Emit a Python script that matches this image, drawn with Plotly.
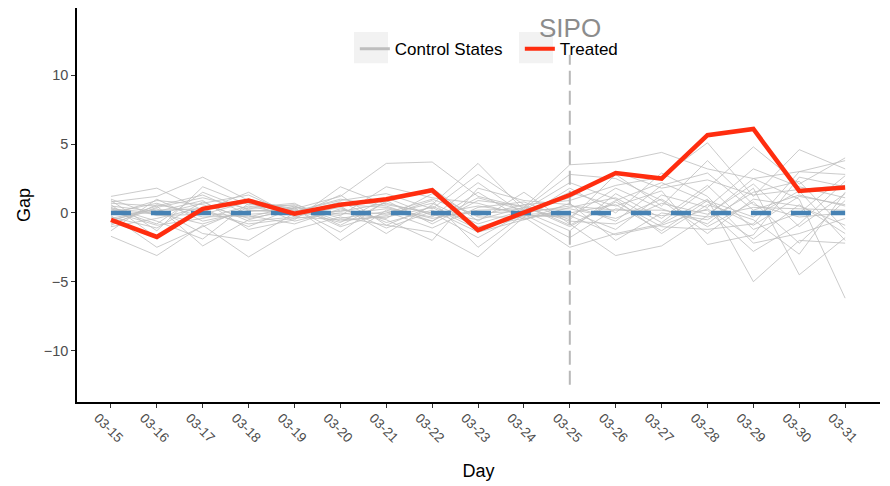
import plotly.graph_objects as go

days = ["03-15", "03-16", "03-17", "03-18", "03-19", "03-20", "03-21", "03-22", "03-23",
        "03-24", "03-25", "03-26", "03-27", "03-28", "03-29", "03-30", "03-31"]
treat_day = "03-25"

treated = [-0.5, -1.75, 0.3, 0.9, -0.05, 0.6, 1.0, 1.65, -1.25, 0.0, 1.3, 2.9, 2.5, 5.65, 6.1, 1.6, 1.85]
zero_line = [0.0] * len(days)

control_states = [
    [0.8, 1.2, 2.6, 0.9, 0.3, 1.2, 3.6, 3.7, 1.2, 0.4, 3.5, 3.7, 4.4, 3.2, 2.5, 3.0, 2.8],
    [-1.7, -3.1, -0.9, -3.2, -1.2, -0.3, -0.9, -1.4, -3.2, -0.3, -2.5, -1.5, -0.8, 1.0, -5.0, -2.0, -2.2],
    [0.3, -0.8, 1.5, 0.2, 0.1, 0.9, 1.4, 0.3, 2.8, 0.6, 0.9, 2.0, 2.6, 5.1, 1.2, 4.6, 3.2],
    [-0.6, 0.5, -2.4, -0.5, 0.4, -2.0, 0.2, -0.6, 1.5, -0.5, 0.4, 1.1, -0.7, 1.8, 4.8, 2.1, 4.0],
    [1.2, 1.8, 0.2, 1.5, -0.3, 0.5, -1.5, 0.6, 3.6, 0.2, 2.2, 1.0, -1.5, 0.6, -0.5, -3.0, 1.5],
    [-0.2, -2.5, -1.0, 0.4, 0.7, -0.9, 0.8, 1.8, -0.6, 1.5, -0.8, -3.1, -2.4, -0.2, 2.5, 1.0, -6.2],
    [0.5, 0.1, 0.9, -1.2, -0.5, 1.9, 0.6, 0.0, -1.8, 0.0, 1.5, 0.5, 1.6, -2.3, -1.6, 2.6, 1.9],
    [-1.0, -0.4, 0.4, 1.0, 0.2, -0.2, 1.9, 1.1, 0.7, -0.2, -0.3, 1.8, 0.3, -0.8, 1.8, -4.5, -1.8],
    [0.0, 0.7, -0.3, -0.2, -0.8, 0.3, -0.5, -2.0, 1.8, 0.9, 0.6, -0.6, 2.0, 2.9, 0.2, 1.3, 0.5],
    [0.9, -1.3, 1.9, 0.6, 0.5, -0.6, -0.2, 0.9, -2.5, -0.1, -1.8, 0.3, -0.2, 0.2, -2.8, -0.8, 2.3],
    [-0.4, 0.3, -1.5, -2.0, 0.0, 0.6, 0.4, -0.4, 0.2, 0.3, 2.8, 2.5, 0.9, -1.5, 1.0, 0.5, -0.9],
    [0.2, -0.1, 0.7, 1.3, -0.2, 1.3, -0.9, 0.5, -1.0, -0.4, 0.1, -1.2, 1.3, 0.4, 3.2, 1.9, 1.1],
    [-1.3, 1.0, -0.6, 0.1, 0.3, -1.4, 0.9, -0.8, 0.9, 0.5, -1.0, 0.8, -1.0, -1.2, -0.8, 3.0, 3.8],
    [0.6, -1.8, 0.1, -0.8, -0.4, 0.0, -0.4, 1.4, -0.3, -0.3, 1.8, 0.0, 2.9, 1.2, -2.2, -1.5, -0.4],
    [-0.8, 0.4, 1.1, 0.3, 0.6, -0.4, 0.1, -1.1, 0.4, 0.8, -0.5, 2.8, 0.5, 3.8, 0.6, -0.3, 0.0],
    [0.4, -0.6, -1.9, 0.7, -0.1, 0.8, -0.7, 0.2, -1.4, -0.5, 0.7, -2.0, 0.0, -0.5, 1.5, 2.3, -1.2],
    [-0.1, 0.9, 0.6, -0.4, 0.2, -0.7, 1.1, -0.2, 0.0, 0.1, -1.3, 1.4, -0.4, 2.0, -1.2, 0.0, 2.7],
    [1.0, -0.2, -0.1, 0.8, -0.6, 0.2, -0.1, 0.7, -0.8, 0.2, 0.3, -0.4, 1.0, -1.0, 0.8, -2.2, 0.9],
    [-0.5, 0.2, 0.3, -1.0, 0.4, -0.1, 0.3, -0.3, 2.2, -0.1, 0.0, 0.6, -1.3, 0.9, -0.3, 1.6, -2.0],
    [0.1, -0.9, -0.4, 0.5, -0.2, 0.4, -1.1, 0.1, -0.5, 0.4, -0.6, -0.8, 0.7, -0.1, 2.1, -1.0, 1.4],
    [0.7, 0.5, 1.3, -0.1, 0.1, 1.0, 0.5, -0.6, 1.1, 0.2, 1.1, 3.0, 1.8, 2.4, 1.3, 1.7, 2.0],
    [-0.3, -1.1, 0.8, -0.6, -0.3, -0.5, -0.3, 0.4, -1.2, -0.2, -0.2, -1.6, -0.9, 0.3, -1.9, 0.6, -1.5],
    [0.3, 0.0, -0.8, 0.2, 0.0, 0.1, 0.7, -0.1, 0.5, 0.0, 0.5, 0.2, 0.2, -0.3, 0.4, 0.3, 0.2],
    [-0.9, 0.6, 0.0, -0.3, 0.5, -1.0, 0.0, 1.0, -0.2, 0.6, -0.9, 0.9, 2.2, 0.8, -0.9, 1.2, 0.6],
]

vline_span = [-12.5, 11.5]
y_ticks = [-10, -5, 0, 5, 10]
title_text = "SIPO"
title_y = 13.45

xi = list(range(len(days)))
t_idx = days.index(treat_day)

FONT = "Liberation Sans, Arial, Helvetica, sans-serif"
GREY_LINE = "rgba(190,190,190,0.8)"
RED = "#FF2D0F"
BLUE = "#4682B4"

fig = go.Figure()

for s in control_states:
    fig.add_trace(go.Scatter(x=xi, y=s, mode="lines", showlegend=False,
                             line=dict(color=GREY_LINE, width=1), hoverinfo="skip"))

fig.add_trace(go.Scatter(x=[t_idx, t_idx], y=vline_span, mode="lines", showlegend=False,
                         line=dict(color="#B8B8B8", width=2, dash="14px,6px")))

fig.add_trace(go.Scatter(x=xi, y=zero_line, mode="lines", showlegend=False,
                         line=dict(color=BLUE, width=4.5, dash="20px,20px")))

fig.add_trace(go.Scatter(x=xi, y=treated, mode="lines", name="Treated", showlegend=False,
                         line=dict(color=RED, width=4.5)))

# legend-only entries
fig.add_trace(go.Scatter(x=[None], y=[None], mode="lines", name="Control States",
                         line=dict(color="#BEBEBE", width=3)))
fig.add_trace(go.Scatter(x=[None], y=[None], mode="lines", name="Treated",
                         line=dict(color=RED, width=4)))

fig.add_annotation(x=t_idx, y=title_y, text=title_text, showarrow=False,
                   font=dict(family=FONT, size=26, color="#8C8C8C"), yanchor="middle")

# grey legend-key backgrounds (paper coords)
for x0, x1 in [(0.3449, 0.3873), (0.5504, 0.5928)]:
    fig.add_shape(type="rect", xref="paper", yref="paper", x0=x0, x1=x1, y0=0.860, y1=0.939,
                  fillcolor="#F2F2F2", line=dict(width=0), layer="above")

fig.update_layout(
    width=890, height=486,
    margin=dict(l=69, r=18, t=0, b=92),
    paper_bgcolor="white", plot_bgcolor="white",
    font=dict(family=FONT, color="#000000"),
    legend=dict(orientation="h", x=0.346, y=0.941, xanchor="left", yanchor="top",
                bgcolor="rgba(0,0,0,0)", font=dict(family=FONT, size=17, color="#000000"),
                entrywidth=120, entrywidthmode="pixels"),
)

fig.update_xaxes(
    range=[-0.74, 16.76], tickmode="array", tickvals=xi, ticktext=days,
    tickangle=45, ticks="outside", ticklen=4, tickwidth=1, tickcolor="#333333",
    tickfont=dict(family=FONT, size=13.5, color="#4D4D4D"),
    ticklabelshift=-13, ticklabelstandoff=-3,
    showline=True, linecolor="#000000", linewidth=1.5, showgrid=False, zeroline=False,
    automargin=False,
    title=dict(text="Day", font=dict(family=FONT, size=18, color="#000000"), standoff=20),
)
fig.update_yaxes(
    range=[-13.75, 14.9], tickmode="array", tickvals=y_ticks,
    ticks="outside", ticklen=4, tickwidth=1, tickcolor="#333333",
    tickfont=dict(family=FONT, size=14.5, color="#4D4D4D"),
    showline=True, linecolor="#000000", linewidth=1.5, showgrid=False, zeroline=False,
    automargin=False,
    title=dict(text="Gap", font=dict(family=FONT, size=18, color="#000000"), standoff=8),
)

fig.write_html("out.html")
